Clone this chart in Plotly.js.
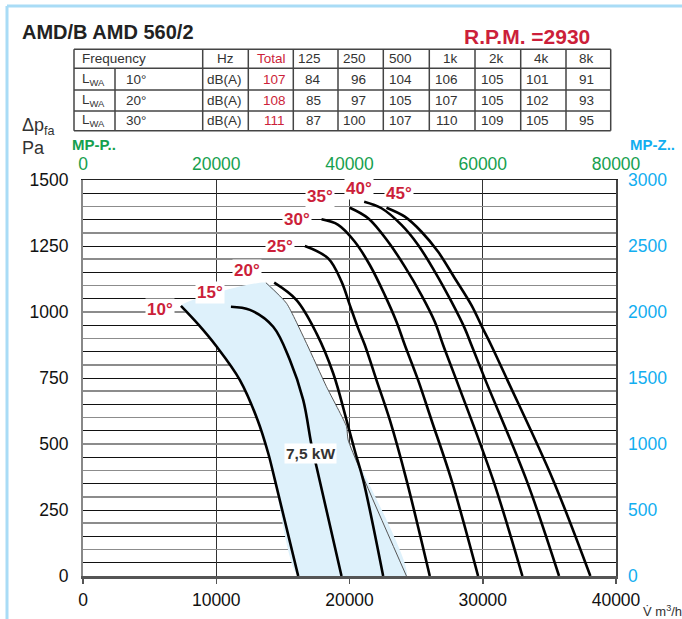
<!DOCTYPE html>
<html><head><meta charset="utf-8">
<script src="https://cdn.plot.ly/plotly-3.0.1.min.js"></script>
<style>html,body{margin:0;padding:0;background:#fff;}#chart{width:682px;height:619px;}</style>
</head><body><div id="chart"></div>
<script>
// ---------- data ----------
const angles = ['10°','15°','20°','25°','30°','35°','40°','45°'];
const c10x = [7350, 8700, 10025, 11775, 13100, 13900, 14400, 16150];
const c10y = [1023, 950, 869, 742, 591, 465, 364, 0];
const c15x = [11100, 12525, 14275, 15525, 16525, 17150, 17525, 19400];
const c15y = [1020, 1008, 944, 818, 667, 496, 414, 0];
const c20x = [14350, 16025, 17525, 18775, 19775, 20450, 21025, 22525];
const c20y = [1111, 1045, 919, 768, 591, 465, 364, 0];
const c25x = [16650, 18400, 19400, 20025, 20650, 21150, 22025, 23025, 24275, 26025];
const c25y = [1250, 1203, 1115, 1026, 938, 875, 742, 591, 364, 0];
const c30x = [17900, 19150, 20400, 21525, 22650, 23525, 24150, 25150, 26150, 27650, 29650];
const c30y = [1351, 1330, 1266, 1178, 1064, 963, 875, 742, 591, 364, 0];
const c35x = [20025, 21400, 22900, 24150, 25400, 26400, 27025, 28025, 30775, 32975];
const c35y = [1395, 1355, 1266, 1172, 1064, 963, 875, 742, 364, 0];
const c40x = [21100, 22400, 23900, 25150, 26400, 27650, 28650, 29150, 30200, 33275, 35725];
const c40y = [1418, 1393, 1330, 1254, 1153, 1039, 938, 875, 742, 364, 0];
const c45x = [22775, 24150, 25400, 26650, 27900, 29150, 30000, 30625, 31850, 35275, 38075];
const c45y = [1395, 1361, 1304, 1228, 1128, 1026, 938, 875, 742, 364, 0];
// 7,5 kW power limit line
const limitX = [13725, 15275, 16775, 18275, 19775, 19900, 24275];
const limitY = [1111, 1033, 881, 717, 566, 515, 0];
const powerLabel = '7,5 kW';

const xTicks = [0, 10000, 20000, 30000, 40000];
const yTicks = [0, 250, 500, 750, 1000, 1250, 1500];
const topTicks = [0, 20000, 40000, 60000, 80000];
const rightTicks = [0, 500, 1000, 1500, 2000, 2500, 3000];

// label anchor positions (text, not marks)
const labelX = [5775, 9525, 12300, 14775, 16050, 17775, 20700, 23700];
const labelY = [1008, 1072, 1159, 1250, 1352, 1436, 1466, 1447];

// noise table
const freqHead = ['125', '250', '500', '1k', '2k', '4k', '8k'];
const rowAngles = ['10°', '20°', '30°'];
const rowTotals = [107, 108, 111];
const rowBands = [
  [84, 96, 104, 106, 105, 101, 91],
  [85, 97, 105, 107, 105, 102, 93],
  [87, 100, 107, 110, 109, 105, 95]
];

// ---------- drawing ----------
const RED = '#cc1f3a', GREEN = '#16a04e', CYAN = '#12aef0';
const FONT = 'Liberation Sans, Arial, Helvetica, sans-serif';
const TFONT = 'Liberation Sans, Arial, sans-serif';
const W = 682, H = 619, L = 83, R = 616, T = 180, B = 576;
const px = v => (v - L) / (R - L);
const py = v => (B - v) / (B - T);

const curvesX = [c10x, c15x, c20x, c25x, c30x, c35x, c40x, c45x];
const curvesY = [c10y, c15y, c20y, c25y, c30y, c35y, c40y, c45y];

const traces = [];
// shaded operating area: 10° curve + power limit
const shadeX = c10x.concat([...limitX].reverse(), [c10x[0]]);
const shadeY = c10y.concat([...limitY].reverse(), [c10y[0]]);
traces.push({x: shadeX, y: shadeY, mode: 'lines', fill: 'toself',
  fillcolor: 'rgb(222,241,251)', line: {width: 0, shape: 'spline', smoothing: 0.5},
  hoverinfo: 'skip', showlegend: false});
traces.push({x: limitX, y: limitY, mode: 'lines',
  line: {color: '#555', width: 1, shape: 'spline', smoothing: 0.5}, showlegend: false});
curvesX.forEach((cx, i) => traces.push({x: cx, y: curvesY[i], mode: 'lines', name: angles[i],
  line: {color: '#000', width: 2.6, shape: 'spline', smoothing: 1}, showlegend: false}));
// dummy traces for secondary axes
traces.push({x: [], y: [], xaxis: 'x2', yaxis: 'y', showlegend: false});
traces.push({x: [], y: [], xaxis: 'x', yaxis: 'y2', showlegend: false});
traces.push({x: [], y: [], xaxis: 'x', yaxis: 'y3', showlegend: false});

const annotations = [];
angles.forEach((a, i) => annotations.push({x: labelX[i], y: labelY[i], xref: 'x', yref: 'y',
  text: '<b>' + a + '</b>', showarrow: false, bgcolor: '#fff', borderpad: 1,
  font: {family: FONT, size: 17, color: RED}, xanchor: 'center', yanchor: 'middle'}));
annotations.push({x: 17100, y: 465, xref: 'x', yref: 'y', text: '<b>' + powerLabel + '</b>',
  showarrow: false, bgcolor: '#fff', borderpad: 1, font: {family: FONT, size: 15.5, color: '#333'}});

function pann(x, y, text, size, color, anchor, family) {
  annotations.push({x: px(x), y: py(y), xref: 'paper', yref: 'paper', text: text, showarrow: false,
    xanchor: anchor || 'center', yanchor: 'middle', font: {family: family || FONT, size: size, color: color}});
}
// titles
pann(20, 32, '<b>AMD/B AMD 560/2</b>', 20, '#222', 'left');
pann(462, 36, '<b>R.P.M. =2930</b>', 21, RED, 'left');
pann(20, 127, 'Δp<sub>fa</sub>', 18, '#333', 'left');
pann(20, 148, 'Pa', 18, '#333', 'left');
pann(70, 145, '<b>MP-P..</b>', 15, GREEN, 'left');
pann(628, 145, '<b>MP-Z..</b>', 15, CYAN, 'left');
pann(641, 611, 'V̇ m<sup>3</sup>/h', 13, '#333', 'left');

// table geometry (pixels)
const colX = [74, 202.7, 248.3, 293.3, 338, 383.3, 429.3, 475, 520.7, 566, 610.7];
const rowYs = [49.3, 68.3, 90, 111, 130.7];
const shapes = [];
const line = (x0, y0, x1, y1, c, w) => shapes.push({type: 'line', xref: 'paper', yref: 'paper',
  x0: px(x0), y0: py(y0), x1: px(x1), y1: py(y1), line: {color: c, width: w}, layer: 'above'});
rowYs.forEach(y => line(colX[0], y, colX[colX.length - 1], y, '#444', 1.5));
colX.forEach(x => line(x, rowYs[0], x, rowYs[4], '#444', 1.5));
line(115, rowYs[1], 115, rowYs[4], '#444', 1.5);
// frame
line(7, 6, 682, 6, '#a9dcf6', 3);
line(7, 6, 7, 619, '#a9dcf6', 3);

const TS = 13.5;
const rowC = [58.8, 79.2, 100.5, 120.8];
pann(80, rowC[0], 'Frequency', TS, '#333', 'left', TFONT);
pann(225.5, rowC[0], 'Hz', TS, '#333', 'center', TFONT);
pann(271, rowC[0], 'Total', TS, RED, 'center', TFONT);
freqHead.forEach((f, j) => pann(colX[j + 4] - 15, rowC[0], f, TS, '#333', 'right', TFONT));
rowAngles.forEach((a, r) => {
  const yc = rowC[r + 1];
  pann(80, yc, 'L<sub>WA</sub>', TS, '#333', 'left', TFONT);
  pann(124, yc, a, TS, '#333', 'left', TFONT);
  pann(224, yc, 'dB(A)', TS, '#333', 'center', TFONT);
  pann(274, yc, String(rowTotals[r]), TS, RED, 'center', TFONT);
  rowBands[r].forEach((v, j) => pann(colX[j + 4] - 15, yc, String(v), TS, '#333', 'right', TFONT));
});

const tickFont = {family: FONT, size: 17.5, color: '#111'};
const layout = {
  width: W, height: H, autosize: false,
  margin: {l: L, r: W - R, t: T, b: H - B, pad: 0},
  paper_bgcolor: '#fff', plot_bgcolor: '#fff', showlegend: false,
  xaxis: {range: [0, 40000], tickmode: 'array', tickvals: xTicks, ticktext: xTicks.map(String),
    showgrid: true, gridcolor: '#333', gridwidth: 1, zeroline: false,
    showline: true, linecolor: '#555', linewidth: 2.5, ticks: 'outside', ticklen: 5,
    tickcolor: '#555', tickwidth: 1.5, tickfont: tickFont, ticklabelstandoff: 1, fixedrange: true},
  xaxis2: {range: [0, 80000], overlaying: 'x', side: 'top', anchor: 'y', tickmode: 'array',
    tickvals: topTicks, ticktext: topTicks.map(String), showgrid: false, zeroline: false,
    showline: true, linecolor: '#222', linewidth: 1.5, ticks: '',
    tickfont: {family: FONT, size: 17.5, color: GREEN}, ticklabelstandoff: 2},
  yaxis: {range: [0, 1500], tickmode: 'array', tickvals: yTicks, ticktext: yTicks.map(String),
    showgrid: false, zeroline: false, showline: true, linecolor: '#888', linewidth: 2,
    ticks: '', tickfont: tickFont, ticklabelstandoff: 9,
    minor: {dtick: 50, tick0: 0, showgrid: true, gridcolor: '#111', gridwidth: 1, ticks: ''}},
  yaxis2: {range: [0, 3000], overlaying: 'y', side: 'right', anchor: 'x', tickmode: 'array',
    tickvals: rightTicks, ticktext: rightTicks.map(String), showgrid: false, zeroline: false,
    showline: true, linecolor: '#444', linewidth: 1.5, ticks: '',
    tickfont: {family: FONT, size: 17.5, color: CYAN}, ticklabelstandoff: 7},
  yaxis3: {range: [0, 1500], overlaying: 'y', anchor: 'x', dtick: 100, tick0: 0,
    showgrid: true, gridcolor: '#8c8c8c', gridwidth: 1.5, showticklabels: false,
    zeroline: false, showline: false, ticks: ''},
  annotations: annotations,
  shapes: shapes
};
Plotly.newPlot('chart', traces, layout, {staticPlot: true, displayModeBar: false});
</script></body></html>
